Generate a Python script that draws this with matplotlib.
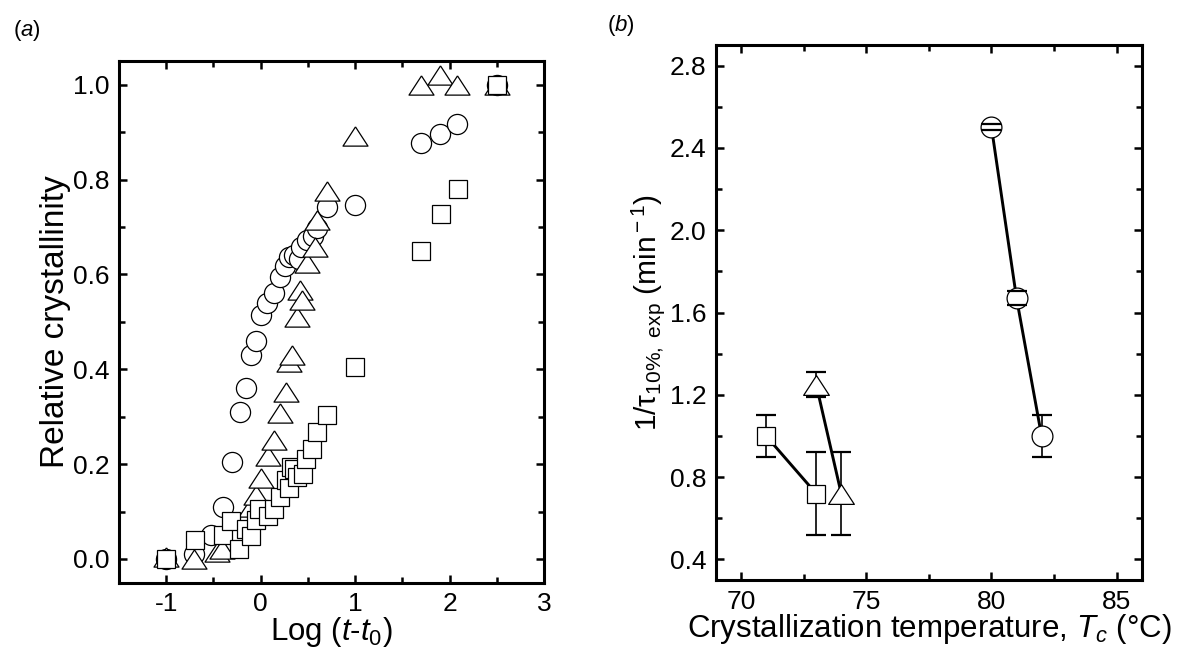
import matplotlib
matplotlib.use("Agg")
import matplotlib.pyplot as plt
from matplotlib.ticker import MultipleLocator, FormatStrFormatter

plt.rcParams['font.family'] = ['Liberation Sans', 'DejaVu Sans']
plt.rcParams['mathtext.fontset'] = 'custom'
plt.rcParams['mathtext.rm'] = 'Liberation Sans'
plt.rcParams['mathtext.it'] = 'Liberation Sans:italic'
plt.rcParams['mathtext.sf'] = 'Liberation Sans'
plt.rcParams['axes.unicode_minus'] = False

# panel (a): relative crystallinity vs log(t - t0)
circle_x = [-1.0, -0.71, -0.53, -0.40, -0.30, -0.22, -0.15, -0.10, -0.046, 0.0, 0.07, 0.145,
            0.21, 0.26, 0.30, 0.35, 0.41, 0.43, 0.49, 0.55, 0.60, 0.70, 1.0, 1.70, 1.90, 2.08, 2.5]
circle_y = [0.0, 0.01, 0.05, 0.11, 0.205, 0.31, 0.36, 0.43, 0.46, 0.515, 0.54, 0.56,
            0.595, 0.618, 0.636, 0.64, 0.632, 0.658, 0.672, 0.68, 0.697, 0.742, 0.746, 0.877, 0.897, 0.917, 1.0]

tri_x = [-1.0, -0.71, -0.46, -0.41, -0.16, -0.10, -0.05, 0.0, 0.08, 0.14, 0.205, 0.265, 0.30,
         0.336, 0.39, 0.414, 0.44, 0.495, 0.58, 0.60, 0.70, 1.0, 1.70, 1.90, 2.08, 2.5]
tri_y = [0.005, 0.0, 0.015, 0.02, 0.09, 0.11, 0.135, 0.17, 0.218, 0.25, 0.307, 0.352, 0.415,
         0.43, 0.51, 0.567, 0.545, 0.625, 0.657, 0.714, 0.775, 0.892, 1.0, 1.02, 1.0, 1.0]

sq_x = [-1.0, -0.70, -0.40, -0.31, -0.23, -0.16, -0.106, -0.046, -0.02, 0.08, 0.14, 0.205, 0.265,
        0.30, 0.32, 0.353, 0.39, 0.45, 0.477, 0.54, 0.60, 0.70, 1.0, 1.70, 1.905, 2.085, 2.5]
sq_y = [0.0, 0.04, 0.05, 0.08, 0.022, 0.063, 0.049, 0.082, 0.106, 0.09, 0.105, 0.13, 0.167,
        0.15, 0.193, 0.19, 0.172, 0.18, 0.21, 0.232, 0.268, 0.304, 0.405, 0.65, 0.728, 0.78, 1.0]

# panel (b): 1/tau_10% vs crystallization temperature
sq_tc = [71, 73]
sq_rate = [1.0, 0.72]
sq_err = [0.1, 0.2]

tri_tc = [73, 74]
tri_rate = [1.25, 0.72]
tri_err = [0.06, 0.2]

circ_tc = [80, 81, 82]
circ_rate = [2.5, 1.67, 1.0]
circ_err = [0.015, 0.035, 0.1]

# wide, flat triangle like the original
TRI = [(0, 1), (-1.3, -1), (1.3, -1), (0, 1)]


def style_axes(ax):
	for s in ax.spines.values():
		s.set_linewidth(2.2)
	ax.tick_params(which='both', direction='in', top=True, right=True, width=1.8)
	ax.tick_params(which='major', length=6, labelsize=19, pad=7)
	ax.tick_params(which='minor', length=4)


def panel_a(ax):
	mk = dict(linestyle='none', markerfacecolor='white', markeredgecolor='black', markeredgewidth=0.9)
	ax.plot(circle_x, circle_y, marker='o', markersize=14.5, **mk)
	ax.plot(tri_x, tri_y, marker=TRI, markersize=18, **mk)
	ax.plot(sq_x, sq_y, marker='s', markersize=12.5, **mk)

	ax.set_xlim(-1.5, 3.0)
	ax.set_ylim(-0.05, 1.05)
	ax.xaxis.set_major_locator(MultipleLocator(1))
	ax.xaxis.set_minor_locator(MultipleLocator(0.5))
	ax.yaxis.set_major_locator(MultipleLocator(0.2))
	ax.yaxis.set_minor_locator(MultipleLocator(0.1))
	ax.yaxis.set_major_formatter(FormatStrFormatter('%.1f'))
	style_axes(ax)
	ax.set_xlabel(r'Log ($t$-$t_{\rm 0}$)', fontsize=22.5, labelpad=-1)
	ax.set_ylabel('Relative crystallinity', fontsize=24, labelpad=1)


def panel_b(ax):
	series = [
		(sq_tc, sq_rate, sq_err, 's', 13.5),
		(tri_tc, tri_rate, tri_err, TRI, 18.5),
		(circ_tc, circ_rate, circ_err, 'o', 15),
	]
	for tc, rate, err, m, ms in series:
		line, caps, bars = ax.errorbar(tc, rate, yerr=err, fmt='none', ecolor='black',
									   elinewidth=1.2, capsize=7.5, capthick=1.6)
		for b in bars:
			b.set_zorder(1)
		for c in caps:
			c.set_zorder(4)
		ax.plot(tc, rate, color='black', linewidth=2.1, marker=m, markersize=ms,
				markerfacecolor='white', markeredgecolor='black', markeredgewidth=0.9, zorder=3)

	ax.set_xlim(69, 86)
	ax.set_ylim(0.3, 2.9)
	ax.xaxis.set_major_locator(MultipleLocator(5))
	ax.xaxis.set_minor_locator(MultipleLocator(2.5))
	ax.yaxis.set_major_locator(MultipleLocator(0.4))
	ax.yaxis.set_minor_locator(MultipleLocator(0.2))
	ax.yaxis.set_major_formatter(FormatStrFormatter('%.1f'))
	style_axes(ax)
	ax.set_xlabel(r'Crystallization temperature, $T_{c}$ (°C)', fontsize=22.5, labelpad=-1)
	ax.set_ylabel(r'1/τ$_{\rm 10\%,\ exp}$ (min$^{\rm -1}$)', fontsize=21.5, labelpad=2)


def main() -> None:
	fig = plt.figure(figsize=(11.79, 6.57), dpi=100)
	ax1 = fig.add_axes([0.1009, 0.1131, 0.3605, 0.7941])
	ax2 = fig.add_axes([0.6073, 0.1172, 0.3611, 0.8143])
	panel_a(ax1)
	panel_b(ax2)
	fig.text(0.011, 0.945, r'($a$)', fontsize=16)
	fig.text(0.515, 0.953, r'($b$)', fontsize=16)
	fig.savefig("out.png", dpi=100)


if __name__ == '__main__':
	main()
